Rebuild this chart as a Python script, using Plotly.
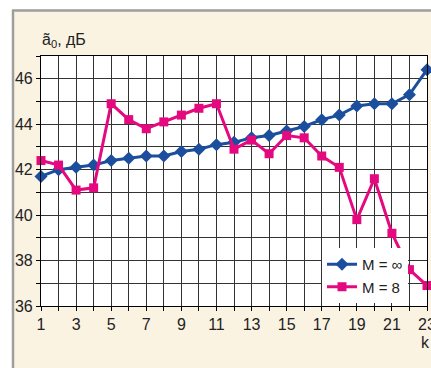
import plotly.graph_objects as go

k = list(range(1, 24))
m_inf = [41.7, 42.0, 42.1, 42.2, 42.4, 42.5, 42.6, 42.6, 42.8, 42.9, 43.1, 43.2,
         43.4, 43.5, 43.7, 43.9, 44.2, 44.4, 44.8, 44.9, 44.9, 45.3, 46.4]
m_8 = [42.4, 42.2, 41.1, 41.2, 44.9, 44.2, 43.8, 44.1, 44.4, 44.7, 44.9, 42.9,
       43.3, 42.7, 43.5, 43.4, 42.6, 42.1, 39.8, 41.6, 39.2, 37.6, 36.9]
series_names = ["M = \u221e", "M = 8"]
y_title = "\u00e3<sub>0</sub>, \u0434\u0411"
x_title = "k"

FONT = "Liberation Sans, Arial, sans-serif"
BLUE = "#1B4F9E"
PINK = "#E5097F"
BEIGE = "#FBF3E2"

fig = go.Figure()
fig.add_trace(go.Scatter(x=k, y=m_inf, name=series_names[0], mode="lines+markers",
                         line=dict(color=BLUE, width=3),
                         marker=dict(symbol="diamond", size=10, color=BLUE),
                         cliponaxis=False))
fig.add_trace(go.Scatter(x=k, y=m_8, name=series_names[1], mode="lines+markers",
                         line=dict(color=PINK, width=3),
                         marker=dict(symbol="square", size=9, color=PINK),
                         cliponaxis=False))

L, R, T, B = 41, 4, 56, 62
W, H = 431, 368
pw, ph = W - L - R, H - T - B

def px(xp):
    return (xp - L) / pw

def py(yp):
    return (H - B - yp) / ph

shapes = [
    dict(type="rect", xref="paper", yref="paper", x0=px(-5), x1=px(W + 5), y0=py(9.5), y1=py(-5),
         fillcolor="white", line=dict(width=0), layer="above"),
    dict(type="rect", xref="paper", yref="paper", x0=px(-5), x1=px(12), y0=py(H + 5), y1=py(-5),
         fillcolor="white", line=dict(width=0), layer="above"),
    dict(type="line", xref="paper", yref="paper", x0=px(12), x1=px(W + 5), y0=py(10.5), y1=py(10.5),
         line=dict(color="#9E9E9E", width=2.5), layer="above"),
    dict(type="line", xref="paper", yref="paper", x0=px(13), x1=px(13), y0=py(10), y1=py(H + 5),
         line=dict(color="#9E9E9E", width=2.5), layer="above"),
]

axis_common = dict(showline=True, linecolor="black", linewidth=1.2, mirror=True,
                   ticks="outside", ticklen=4, tickcolor="black",
                   showgrid=True, gridcolor="#333333", gridwidth=1,
                   zeroline=False, ticklabeloverflow="allow", automargin=False,
                   tickfont=dict(family=FONT, size=16, color="#222"))

fig.update_layout(
    width=W, height=H,
    margin=dict(l=L, r=R, t=T, b=B, autoexpand=False),
    paper_bgcolor=BEIGE, plot_bgcolor="white",
    font=dict(family=FONT, color="#222"),
    showlegend=True,
    legend=dict(x=px(322), y=py(248), xanchor="left", yanchor="top",
                bgcolor="white", borderwidth=0, itemwidth=30,
                font=dict(family=FONT, size=15, color="#222"),
                tracegroupgap=0),
    xaxis=dict(range=[1, 23], tick0=1, dtick=2, tickmode="linear",
               minor=dict(dtick=1, tick0=1, ticks="outside", ticklen=4, tickcolor="black",
                          showgrid=True, gridcolor="#333333", gridwidth=1),
               **axis_common),
    yaxis=dict(range=[36, 47], tick0=36, dtick=2, tickmode="linear",
               minor=dict(dtick=1, tick0=36, ticks="outside", ticklen=4, tickcolor="black",
                          showgrid=True, gridcolor="#333333", gridwidth=1),
               **axis_common),
    shapes=shapes,
    annotations=[
        dict(text=y_title, xref="paper", yref="paper", x=px(40), y=py(52),
             xanchor="left", yanchor="bottom", showarrow=False,
             font=dict(family=FONT, size=16, color="#222")),
        dict(text=x_title, xref="paper", yref="paper", x=px(425), y=py(332),
             xanchor="center", yanchor="top", showarrow=False,
             font=dict(family=FONT, size=16, color="#222")),
    ],
)

fig.write_html("out.html")
